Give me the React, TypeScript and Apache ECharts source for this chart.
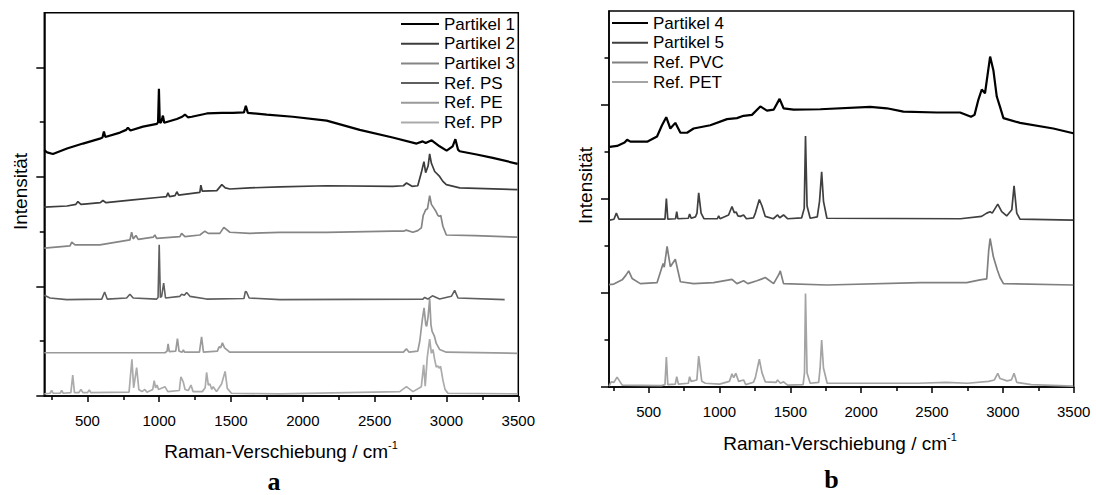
import React, { useEffect, useRef } from "react";
import * as echarts from "echarts";

// ---------- data (wavenumber / cm-1, stacked intensity in axis units) ----------
const partikel1: number[][] = [
  [200, 4.49], [220, 4.45], [260, 4.42], [358, 4.52], [469, 4.61], [587, 4.70], [605, 4.72], [615, 4.83], [625, 4.73],
  [727, 4.81], [770, 4.86], [782, 4.90], [800, 4.85], [887, 4.92], [984, 4.97], [992, 5.0], [998, 5.61], [1004, 5.0],
  [1012, 4.99], [1026, 5.12], [1035, 4.99], [1123, 5.06], [1160, 5.10], [1179, 5.14], [1200, 5.09], [1227, 5.10],
  [1332, 5.16], [1436, 5.17], [1512, 5.17], [1590, 5.18], [1603, 5.30], [1617, 5.17], [1749, 5.14], [1930, 5.10],
  [2166, 5.03], [2396, 4.86], [2625, 4.72], [2792, 4.61], [2834, 4.65], [2855, 4.62], [2897, 4.67], [2952, 4.56],
  [3001, 4.48], [3043, 4.56], [3062, 4.69], [3080, 4.50], [3092, 4.47], [3210, 4.41], [3322, 4.35], [3495, 4.24],
];
const partikel2: number[][] = [
  [200, 3.45], [358, 3.47], [420, 3.50], [434, 3.55], [455, 3.50], [497, 3.51], [590, 3.53], [608, 3.57], [630, 3.53],
  [817, 3.58], [1005, 3.63], [1050, 3.64], [1061, 3.71], [1072, 3.64], [1110, 3.66], [1123, 3.73], [1135, 3.67],
  [1283, 3.72], [1290, 3.85], [1300, 3.74], [1401, 3.75], [1436, 3.86], [1460, 3.80], [1492, 3.78], [1631, 3.80],
  [1840, 3.82], [2166, 3.84], [2625, 3.83], [2700, 3.84], [2722, 3.89], [2760, 3.83], [2800, 3.84], [2825, 4.08],
  [2843, 4.28], [2855, 4.08], [2872, 4.20], [2883, 4.42], [2895, 4.25], [2918, 4.10], [2952, 4.01], [2975, 3.92],
  [2999, 3.86], [3092, 3.80], [3495, 3.77],
];
const partikel3: number[][] = [
  [200, 2.70], [379, 2.74], [391, 2.81], [414, 2.76], [587, 2.76], [796, 2.85], [808, 2.99], [819, 2.87], [838, 2.93],
  [854, 2.86], [958, 2.90], [970, 2.94], [982, 2.88], [1144, 2.91], [1156, 2.97], [1179, 2.91], [1283, 2.94],
  [1318, 3.01], [1341, 2.97], [1422, 2.97], [1450, 3.08], [1492, 2.99], [1631, 2.97], [1840, 2.99], [2166, 2.99],
  [2625, 3.01], [2700, 3.01], [2720, 3.03], [2766, 2.99], [2800, 3.02], [2825, 3.07], [2838, 3.30], [2845, 3.34],
  [2855, 3.40], [2868, 3.42], [2883, 3.66], [2895, 3.50], [2910, 3.44], [2925, 3.38], [2940, 3.30], [2950, 3.28],
  [2960, 3.30], [2975, 3.10], [2999, 2.94], [3200, 2.93], [3495, 2.90],
];
const refPS: number[][] = [
  [200, 1.84], [240, 1.79], [356, 1.76], [600, 1.77], [620, 1.90], [638, 1.77], [773, 1.79], [796, 1.86], [819, 1.79],
  [982, 1.77], [992, 1.80], [1000, 2.76], [1008, 1.80], [1017, 1.82], [1031, 2.06], [1044, 1.79], [1144, 1.82],
  [1156, 1.86], [1175, 1.84], [1191, 1.89], [1214, 1.82], [1330, 1.77], [1590, 1.78], [1600, 1.91], [1608, 1.90],
  [1626, 1.79], [1840, 1.76], [2836, 1.77], [2848, 1.80], [2870, 1.77], [2902, 1.83], [2952, 1.77], [3034, 1.82],
  [3057, 1.93], [3080, 1.79], [3405, 1.76],
];
const refPE: number[][] = [
  [200, 0.79], [1040, 0.79], [1055, 0.82], [1062, 0.95], [1070, 0.81], [1115, 0.82], [1127, 1.05], [1138, 0.82],
  [1160, 0.80], [1168, 0.84], [1176, 0.80], [1280, 0.80], [1295, 1.08], [1308, 0.80], [1405, 0.82], [1417, 0.90],
  [1428, 0.88], [1440, 0.97], [1455, 0.88], [1468, 0.85], [1490, 0.80], [2700, 0.80], [2721, 0.86], [2740, 0.80],
  [2800, 0.82], [2814, 1.0], [2832, 1.40], [2844, 1.61], [2856, 1.30], [2862, 1.27], [2872, 1.45], [2883, 1.77],
  [2892, 1.30], [2900, 1.18], [2915, 1.10], [2929, 0.96], [2952, 0.85], [2999, 0.80], [3495, 0.78],
];
const refPP: number[][] = [
  [200, 0.04], [240, 0.05], [251, 0.10], [262, 0.05], [310, 0.05], [321, 0.10], [332, 0.05], [385, 0.06], [398, 0.38],
  [410, 0.06], [440, 0.06], [455, 0.12], [470, 0.06], [500, 0.06], [513, 0.11], [525, 0.06], [790, 0.07], [810, 0.67],
  [822, 0.15], [843, 0.52], [858, 0.12], [880, 0.08], [900, 0.12], [915, 0.07], [940, 0.10], [955, 0.12], [965, 0.28],
  [975, 0.15], [985, 0.20], [995, 0.12], [1040, 0.17], [1060, 0.08], [1140, 0.10], [1151, 0.35], [1160, 0.30],
  [1167, 0.26], [1180, 0.12], [1202, 0.10], [1221, 0.20], [1236, 0.08], [1300, 0.08], [1320, 0.15], [1330, 0.43],
  [1342, 0.20], [1353, 0.22], [1366, 0.12], [1376, 0.17], [1399, 0.08], [1434, 0.22], [1459, 0.45], [1474, 0.14],
  [1503, 0.05], [1840, 0.04], [2675, 0.08], [2721, 0.17], [2767, 0.08], [2825, 0.17], [2841, 0.57], [2852, 0.18],
  [2866, 0.70], [2883, 1.04], [2895, 0.78], [2906, 0.85], [2918, 0.66], [2929, 0.53], [2940, 0.55], [2948, 0.51],
  [2959, 0.54], [2975, 0.29], [2990, 0.12], [3010, 0.05], [3495, 0.04],
];

const partikel4: number[][] = [
  [225, 5.11], [277, 5.13], [330, 5.20], [348, 5.26], [371, 5.22], [489, 5.22], [559, 5.33], [594, 5.57], [624, 5.74],
  [653, 5.50], [688, 5.62], [724, 5.41], [771, 5.41], [817, 5.50], [935, 5.57], [1053, 5.70], [1123, 5.72],
  [1170, 5.77], [1229, 5.79], [1288, 5.97], [1335, 5.88], [1382, 5.90], [1424, 6.13], [1452, 5.93], [1523, 5.90],
  [1711, 5.91], [2064, 5.96], [2181, 5.93], [2298, 5.86], [2534, 5.84], [2698, 5.84], [2775, 5.75], [2800, 5.79],
  [2827, 6.11], [2851, 6.33], [2874, 6.25], [2910, 7.03], [2933, 6.74], [2957, 6.18], [2980, 5.96], [3004, 5.72],
  [3121, 5.62], [3356, 5.50], [3497, 5.40],
];
const partikel5: number[][] = [
  [225, 3.55], [255, 3.57], [272, 3.70], [290, 3.57], [615, 3.57], [625, 4.01], [635, 3.57], [690, 3.58], [698, 3.73],
  [706, 3.58], [780, 3.59], [789, 3.68], [800, 3.59], [830, 3.62], [841, 3.70], [853, 4.13], [870, 3.70], [890, 3.58],
  [985, 3.58], [994, 3.64], [1004, 3.58], [1064, 3.66], [1088, 3.84], [1104, 3.71], [1118, 3.72], [1130, 3.64],
  [1147, 3.63], [1170, 3.66], [1190, 3.58], [1240, 3.60], [1253, 3.70], [1281, 3.99], [1300, 3.85], [1323, 3.63],
  [1380, 3.58], [1410, 3.66], [1425, 3.60], [1452, 3.66], [1480, 3.58], [1580, 3.60], [1598, 3.80], [1607, 5.34],
  [1618, 3.85], [1640, 3.59], [1690, 3.62], [1706, 3.95], [1721, 4.58], [1734, 3.95], [1758, 3.59], [2700, 3.58],
  [2850, 3.63], [2886, 3.70], [2910, 3.73], [2925, 3.70], [2964, 3.89], [2992, 3.73], [3027, 3.64], [3063, 3.77],
  [3079, 4.28], [3098, 3.70], [3121, 3.57], [3497, 3.55],
];
const refPVC: number[][] = [
  [220, 2.18], [254, 2.19], [313, 2.28], [340, 2.38], [359, 2.47], [383, 2.31], [441, 2.20], [559, 2.22], [602, 2.63],
  [610, 2.55], [630, 2.99], [653, 2.56], [688, 2.72], [724, 2.24], [817, 2.20], [958, 2.22], [1088, 2.29],
  [1123, 2.20], [1170, 2.26], [1200, 2.20], [1264, 2.26], [1300, 2.30], [1323, 2.33], [1382, 2.20], [1420, 2.40],
  [1429, 2.47], [1452, 2.20], [1758, 2.17], [2416, 2.22], [2745, 2.22], [2839, 2.28], [2886, 2.30], [2900, 2.90],
  [2910, 3.16], [2933, 2.77], [2961, 2.49], [2980, 2.33], [3004, 2.20], [3497, 2.17],
];
const refPET: number[][] = [
  [220, 0.02], [235, 0.11], [255, 0.10], [277, 0.21], [313, 0.04], [590, 0.03], [615, 0.05], [625, 0.64], [635, 0.05],
  [688, 0.06], [698, 0.22], [710, 0.06], [780, 0.08], [789, 0.22], [800, 0.12], [840, 0.15], [853, 0.66], [875, 0.12],
  [900, 0.08], [1000, 0.06], [1070, 0.12], [1088, 0.28], [1100, 0.20], [1115, 0.29], [1135, 0.12], [1170, 0.15],
  [1185, 0.05], [1240, 0.10], [1253, 0.20], [1281, 0.59], [1300, 0.30], [1323, 0.11], [1400, 0.10], [1410, 0.15],
  [1430, 0.08], [1452, 0.11], [1480, 0.04], [1590, 0.05], [1600, 0.3], [1607, 1.99], [1618, 0.3], [1640, 0.08],
  [1700, 0.1], [1710, 0.4], [1721, 1.0], [1734, 0.4], [1760, 0.08], [2400, 0.08], [2600, 0.10], [2750, 0.08],
  [2900, 0.12], [2940, 0.15], [2964, 0.29], [2980, 0.18], [3030, 0.13], [3060, 0.15], [3079, 0.29], [3098, 0.10],
  [3200, 0.05], [3497, 0.02],
];

const xLabelTicks = [500, 1000, 1500, 2000, 2500, 3000, 3500];
const xMinorTicks = [250, 750, 1250, 1750, 2250, 2750, 3250];
const yMajorTicks = [0, 2, 4, 6];
const yMinorTicksA = [1, 3, 5];
const yMinorTicksB = [1, 3, 5, 7];

const legendA = ["Partikel 1", "Partikel 2", "Partikel 3", "Ref. PS", "Ref. PE", "Ref. PP"];
const legendB = ["Partikel 4", "Partikel 5", "Ref. PVC", "Ref. PET"];

const FONT = '"Liberation Sans", Arial, Helvetica, sans-serif';

function App() {
  const ref = useRef<HTMLDivElement>(null);
  useEffect(() => {
    if (!ref.current) return;
    const chart = echarts.init(ref.current, undefined, { renderer: "svg" });
    const axisLineStyle = { color: "#000", width: 1.5 };

    const xMain = (grid: number, min: number) => ({
      type: "value", gridIndex: grid, min, max: 3500, position: "bottom",
      axisLine: { show: true, onZero: false, lineStyle: axisLineStyle },
      axisTick: { show: true, length: 6, customValues: xLabelTicks, lineStyle: axisLineStyle },
      axisLabel: {
        show: true, customValues: xLabelTicks, color: "#000", fontSize: 15, fontFamily: FONT, margin: 17,
        formatter: (v: number) => String(v),
      },
      splitLine: { show: false },
    });
    const xMinor = (grid: number, min: number) => ({
      type: "value", gridIndex: grid, min, max: 3500, position: "bottom",
      axisLine: { show: false, onZero: false },
      axisTick: { show: true, length: 4, customValues: xMinorTicks, lineStyle: axisLineStyle },
      axisLabel: { show: false },
      splitLine: { show: false },
    });
    const yMain = (grid: number, max: number) => ({
      type: "value", gridIndex: grid, min: 0, max, position: "left",
      axisLine: { show: true, onZero: false, lineStyle: axisLineStyle },
      axisTick: { show: true, length: 8, customValues: yMajorTicks, lineStyle: axisLineStyle },
      axisLabel: { show: false },
      splitLine: { show: false },
    });
    const yMinor = (grid: number, max: number, ticks: number[]) => ({
      type: "value", gridIndex: grid, min: 0, max, position: "left",
      axisLine: { show: false, onZero: false },
      axisTick: { show: true, length: 4.5, customValues: ticks, lineStyle: axisLineStyle },
      axisLabel: { show: false },
      splitLine: { show: false },
    });

    const mk = (name: string, data: number[][], color: string, width: number, panel: number) => ({
      type: "line", name, data,
      xAxisIndex: panel === 0 ? 0 : 2, yAxisIndex: panel === 0 ? 0 : 2,
      symbol: "none", showSymbol: false, silent: true, clip: true,
      lineStyle: { color, width }, itemStyle: { color }, color,
    });

    const legendCommon = {
      orient: "vertical", padding: 0, itemHeight: 2, itemGap: 2.7, icon: "rect",
      textStyle: { color: "#000", fontSize: 17, fontFamily: FONT, lineHeight: 17 },
      selectedMode: false,
    };

    const axisName = (x: number, y: number) => ({
      type: "text", x, y, silent: true,
      style: {
        text: "{m|Raman-Verschiebung / cm}{s|-1}",
        align: "center", verticalAlign: "middle", fill: "#000",
        rich: {
          m: { fontSize: 19, fontFamily: FONT, fill: "#000", lineHeight: 22, verticalAlign: "bottom" },
          s: { fontSize: 11, fontFamily: FONT, fill: "#000", lineHeight: 22, verticalAlign: "top" },
        },
      },
    });
    const yName = (x: number, y: number) => ({
      type: "text", x, y, rotation: Math.PI / 2, silent: true,
      style: { text: "Intensität", align: "center", verticalAlign: "middle", fill: "#000", fontSize: 19, fontFamily: FONT },
    });
    const panelLabel = (x: number, y: number, t: string) => ({
      type: "text", x, y, silent: true,
      style: { text: t, align: "center", verticalAlign: "middle", fill: "#000", fontSize: 26, fontWeight: "bold", fontFamily: '"Liberation Serif", "Times New Roman", serif' },
    });

    chart.setOption({
      animation: false,
      backgroundColor: "#fff",
      grid: [
        { left: 44.3, top: 12.7, width: 474, height: 383.3, show: true, borderColor: "#000", borderWidth: 1.5, containLabel: false },
        { left: 609, top: 11, width: 464.7, height: 376, show: true, borderColor: "#000", borderWidth: 1.5, containLabel: false },
      ],
      xAxis: [xMain(0, 200), xMinor(0, 200), xMain(1, 220), xMinor(1, 220)],
      yAxis: [yMain(0, 7), yMinor(0, 7, yMinorTicksA), yMain(1, 8), yMinor(1, 8, yMinorTicksB)],
      legend: [
        { ...legendCommon, data: legendA, left: 401, top: 15.5, itemWidth: 38 },
        { ...legendCommon, data: legendB, left: 612, top: 14.5, itemWidth: 36 },
      ],
      series: [
        mk("Ref. PP", refPP, "#ababab", 1.7, 0),
        mk("Ref. PE", refPE, "#9a9a9a", 1.7, 0),
        mk("Ref. PS", refPS, "#5f5f5f", 1.6, 0),
        mk("Partikel 3", partikel3, "#858585", 1.7, 0),
        mk("Partikel 2", partikel2, "#3d3d3d", 1.7, 0),
        mk("Partikel 1", partikel1, "#000000", 2.2, 0),
        mk("Ref. PET", refPET, "#a4a4a4", 1.7, 1),
        mk("Ref. PVC", refPVC, "#808080", 1.7, 1),
        mk("Partikel 5", partikel5, "#404040", 1.7, 1),
        mk("Partikel 4", partikel4, "#000000", 2.2, 1),
      ],
      graphic: [
        yName(20.5, 191.5),
        yName(585, 185.5),
        axisName(281, 450),
        axisName(840, 442),
        panelLabel(274, 481.5, "a"),
        panelLabel(831.5, 479, "b"),
      ],
    } as any);
    return () => chart.dispose();
  }, []);
  return <div ref={ref} style={{ position: "fixed", left: 0, top: 0, width: 1096, height: 495, background: "#fff" }} />;
}

export default App;
